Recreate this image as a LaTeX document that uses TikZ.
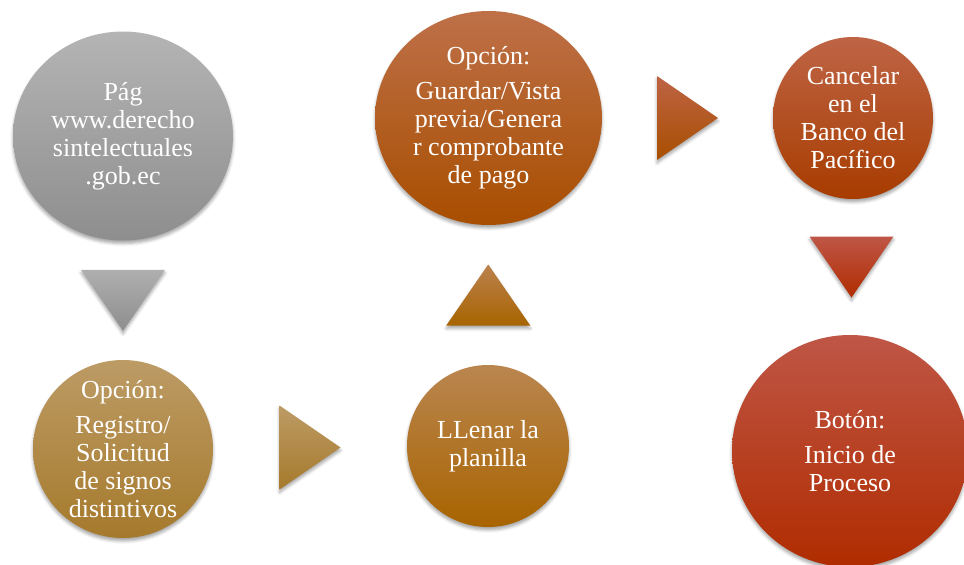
\documentclass[tikz,border=0pt]{standalone}
\usepackage{fontspec}
\setmainfont{Liberation Serif}
\newfontfamily\stepfont{Liberation Serif}
\usetikzlibrary{calc,shapes.geometric,shadows.blur}

% palette: light (top) and dark (bottom) tone of each step
\definecolor{grayTop}{HTML}{B4B4B4}   \definecolor{grayBot}{HTML}{8E8E8E}
\definecolor{goldTop}{HTML}{BC9B65}   \definecolor{goldBot}{HTML}{A67A2C}
\definecolor{ochreTop}{HTML}{BA8650}  \definecolor{ochreMid}{HTML}{B47000} \definecolor{ochreBot}{HTML}{A86400}
\definecolor{rustTop}{HTML}{BE7048}   \definecolor{rustMid}{HTML}{B55A10}  \definecolor{rustBot}{HTML}{A84E00}
\definecolor{brickTop}{HTML}{BE6445}  \definecolor{brickMid}{HTML}{B8460C} \definecolor{brickBot}{HTML}{A83C00}
\definecolor{redTop}{HTML}{BF5646}    \definecolor{redMid}{HTML}{B83212}   \definecolor{redBot}{HTML}{B02C00}

\tikzset{
  softshadow/.style={blur shadow={shadow xshift=0pt, shadow yshift=-3pt,
      shadow blur radius=3pt, shadow opacity=35}},
  % the disc keeps its own size; its text sits in a centred label
  stepcircle/.style 2 args={ellipse, inner sep=0pt, minimum width=#1pt,
      minimum height=#2pt, softshadow},
  steptext/.style={text=white, align=center, inner sep=0pt,
      font=\stepfont\fontsize{26}{28}\selectfont},
  arrowtri/.style={softshadow},
}

\begin{document}
\begin{tikzpicture}[x=1pt,y=-1pt]
\useasboundingbox (0,0) rectangle (964,565);

% process steps
\node[stepcircle={220}{209}, top color=grayTop, bottom color=grayBot,
  label={[steptext]center:Pág\\www.derecho\\sintelectuales\\.gob.ec}]
  (web) at (123,136) {};
\node[stepcircle={180}{178}, top color=goldTop, bottom color=goldBot,
  label={[steptext]center:Opción:\\[7pt]Registro/\\Solicitud\\de signos\\distintivos}]
  (registro) at (123,449) {};
\node[stepcircle={162}{162}, top color=ochreTop, middle color=ochreMid, bottom color=ochreBot,
  label={[steptext]center:LLenar la\\planilla}]
  (planilla) at (488,446) {};
\node[stepcircle={227}{214}, top color=rustTop, middle color=rustMid, bottom color=rustBot,
  label={[steptext]center:Opción:\\[7pt]Guardar/Vista\\previa/Genera\\r comprobante\\de pago}]
  (guardar) at (488.5,118) {};
\node[stepcircle={160}{162}, top color=brickTop, middle color=brickMid, bottom color=brickBot,
  label={[steptext]center:Cancelar\\en el\\Banco del\\Pacífico}]
  (banco) at (853,118) {};
\node[stepcircle={236}{232}, top color=redTop, middle color=redMid, bottom color=redBot,
  label={[steptext]center:Botón:\\[7pt]Inicio de\\Proceso}]
  (inicio) at (850,451) {};

% arrow positions halfway between neighbouring steps
\coordinate (m1) at ($(web.south)!0.5!(registro.north)$);
\coordinate (m2) at ($(registro.east)!0.5!(planilla.west)$);
\coordinate (m3) at ($(planilla.north)!0.5!(guardar.south)$);
\coordinate (m4) at ($(guardar.east)!0.5!(banco.west)$);
\coordinate (m5) at ($(banco.south)!0.5!(inicio.north)$);

% triangular arrows
\shade[arrowtri, top color=grayTop!90!gray, bottom color=grayBot]
  ([shift={(-42,-30.5)}]m1) -- ([shift={(42,-30.5)}]m1) -- ([shift={(0,30.5)}]m1) -- cycle;
\shade[arrowtri, top color=goldTop, bottom color=goldBot]
  ([shift={(-30.5,-42)}]m2) -- ([shift={(30.5,0)}]m2) -- ([shift={(-30.5,42)}]m2) -- cycle;
\shade[arrowtri, top color=ochreTop!80!rustTop, bottom color=ochreBot]
  ([shift={(-42,30.5)}]m3) -- ([shift={(42,30.5)}]m3) -- ([shift={(0,-30.5)}]m3) -- cycle;
\shade[arrowtri, top color=brickTop, bottom color=rustBot]
  ([shift={(-30.5,-42)}]m4) -- ([shift={(30.5,0)}]m4) -- ([shift={(-30.5,42)}]m4) -- cycle;
\shade[arrowtri, top color=redTop, bottom color=redBot]
  ([shift={(-42,-30.5)}]m5) -- ([shift={(42,-30.5)}]m5) -- ([shift={(0,30.5)}]m5) -- cycle;
\end{tikzpicture}
\end{document}
